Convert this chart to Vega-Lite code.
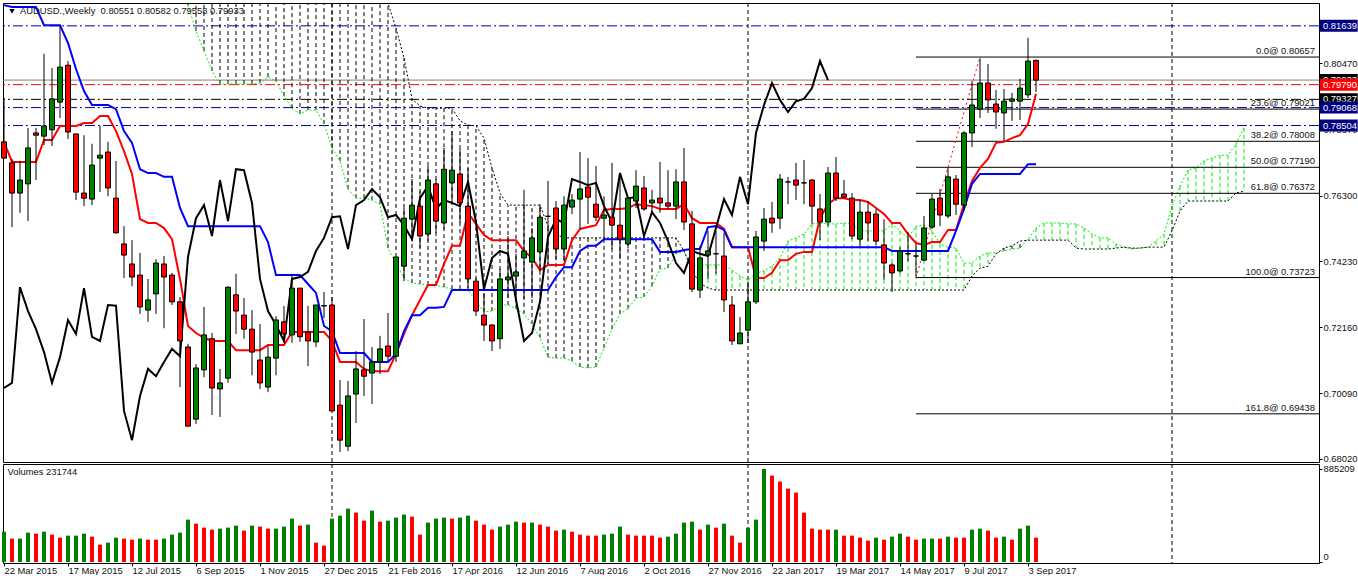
{"$schema":"https://vega.github.io/schema/vega-lite/v6.json","background":"white","padding":{"left":0,"top":2,"right":0,"bottom":0},"config":{"view":{"stroke":"black","strokeWidth":1},"concat":{"spacing":-2},"font":"Liberation Sans","axis":{"grid":false,"title":null,"domain":false,"tickColor":"black","tickSize":3,"labelColor":"#111","labelFontSize":9.4,"labelFont":"Liberation Sans","labelPadding":1}},
"datasets":{"w":[
{"d":"2015-03-22","o":0.7799,"h":0.7937,"l":0.7745,"c":0.7748,"v":288743,"vc":"up","t":0.7799,"k":0.8229,"x":0.7025},
{"d":"2015-03-29","o":0.7733,"h":0.7745,"l":0.7531,"c":0.7638,"v":222110,"vc":"dn","t":0.7736,"k":0.8223,"x":0.7041},
{"d":"2015-04-05","o":0.7638,"h":0.7739,"l":0.7576,"c":0.7679,"v":222110,"vc":"up","t":0.7736,"k":0.8223,"x":0.7342},
{"d":"2015-04-12","o":0.7667,"h":0.7843,"l":0.755,"c":0.778,"v":279224,"vc":"up","t":0.7736,"k":0.8223,"x":0.7267},
{"d":"2015-04-19","o":0.7827,"h":0.7843,"l":0.7679,"c":0.782,"v":269705,"vc":"dn","t":0.7736,"k":0.8223,"x":0.721},
{"d":"2015-04-26","o":0.7817,"h":0.8076,"l":0.7789,"c":0.7849,"v":288743,"vc":"up","t":0.7805,"k":0.8166,"x":0.7138},
{"d":"2015-05-03","o":0.7837,"h":0.8031,"l":0.7786,"c":0.7934,"v":260186,"vc":"dn","t":0.7805,"k":0.8166,"x":0.7041},
{"d":"2015-05-10","o":0.7924,"h":0.8166,"l":0.7874,"c":0.8034,"v":231629,"vc":"dn","t":0.7849,"k":0.8166,"x":0.7122},
{"d":"2015-05-17","o":0.804,"h":0.8053,"l":0.7808,"c":0.783,"v":250667,"vc":"up","t":0.7849,"k":0.811,"x":0.7239},
{"d":"2015-05-24","o":0.7824,"h":0.7824,"l":0.7616,"c":0.7641,"v":250667,"vc":"up","t":0.7849,"k":0.8028,"x":0.7195},
{"d":"2015-05-31","o":0.7638,"h":0.782,"l":0.7597,"c":0.7622,"v":269705,"vc":"up","t":0.7858,"k":0.7959,"x":0.7339},
{"d":"2015-06-07","o":0.7619,"h":0.7793,"l":0.76,"c":0.7726,"v":241148,"vc":"dn","t":0.7858,"k":0.7915,"x":0.7186},
{"d":"2015-06-14","o":0.7748,"h":0.7849,"l":0.7641,"c":0.7757,"v":164996,"vc":"dn","t":0.788,"k":0.7915,"x":0.7173},
{"d":"2015-06-21","o":0.7767,"h":0.7799,"l":0.7628,"c":0.7654,"v":184034,"vc":"up","t":0.788,"k":0.7915,"x":0.7286},
{"d":"2015-06-28","o":0.7622,"h":0.7739,"l":0.751,"c":0.7513,"v":231629,"vc":"up","t":0.7833,"k":0.7902,"x":0.7284},
{"d":"2015-07-05","o":0.7478,"h":0.7534,"l":0.7371,"c":0.7443,"v":222110,"vc":"dn","t":0.777,"k":0.7833,"x":0.6953},
{"d":"2015-07-12","o":0.7415,"h":0.749,"l":0.7345,"c":0.7374,"v":212591,"vc":"dn","t":0.7698,"k":0.7796,"x":0.6861},
{"d":"2015-07-19","o":0.738,"h":0.745,"l":0.7258,"c":0.728,"v":222110,"vc":"up","t":0.7556,"k":0.7713,"x":0.7},
{"d":"2015-07-26","o":0.727,"h":0.7368,"l":0.7233,"c":0.7302,"v":212591,"vc":"dn","t":0.7544,"k":0.7701,"x":0.7085},
{"d":"2015-08-02","o":0.7321,"h":0.743,"l":0.7258,"c":0.7418,"v":212591,"vc":"dn","t":0.7544,"k":0.7701,"x":0.7062},
{"d":"2015-08-09","o":0.7415,"h":0.744,"l":0.7213,"c":0.7374,"v":222110,"vc":"up","t":0.7528,"k":0.7689,"x":0.7107},
{"d":"2015-08-16","o":0.738,"h":0.7387,"l":0.7286,"c":0.7296,"v":260186,"vc":"up","t":0.7493,"k":0.7689,"x":0.7148},
{"d":"2015-08-23","o":0.7296,"h":0.7311,"l":0.7028,"c":0.7173,"v":279224,"vc":"up","t":0.7368,"k":0.7591,"x":0.7125},
{"d":"2015-08-30","o":0.7154,"h":0.7164,"l":0.6905,"c":0.6905,"v":402971,"vc":"up","t":0.722,"k":0.7534,"x":0.7437,"a":0.8229,"b":0.83},
{"d":"2015-09-06","o":0.6927,"h":0.71,"l":0.6912,"c":0.7088,"v":364895,"vc":"dn","t":0.7198,"k":0.7534,"x":0.7559,"a":0.8148,"b":0.83},
{"d":"2015-09-13","o":0.7082,"h":0.728,"l":0.7059,"c":0.7192,"v":326819,"vc":"dn","t":0.7183,"k":0.7534,"x":0.76,"a":0.8085,"b":0.83},
{"d":"2015-09-20","o":0.718,"h":0.7198,"l":0.694,"c":0.7025,"v":307781,"vc":"dn","t":0.7173,"k":0.7534,"x":0.7503,"a":0.8022,"b":0.83},
{"d":"2015-09-27","o":0.7022,"h":0.7085,"l":0.6934,"c":0.7041,"v":317300,"vc":"up","t":0.7173,"k":0.7534,"x":0.7679,"a":0.7981,"b":0.83},
{"d":"2015-10-04","o":0.7056,"h":0.7345,"l":0.7041,"c":0.7342,"v":326819,"vc":"up","t":0.7173,"k":0.7534,"x":0.755,"a":0.7981,"b":0.83},
{"d":"2015-10-11","o":0.7318,"h":0.7384,"l":0.7195,"c":0.7267,"v":345857,"vc":"up","t":0.7144,"k":0.7534,"x":0.7713,"a":0.7981,"b":0.83},
{"d":"2015-10-18","o":0.7254,"h":0.7308,"l":0.718,"c":0.721,"v":298262,"vc":"dn","t":0.7144,"k":0.7534,"x":0.771,"a":0.7981,"b":0.83},
{"d":"2015-10-25","o":0.721,"h":0.727,"l":0.7065,"c":0.7138,"v":345857,"vc":"up","t":0.7144,"k":0.7534,"x":0.7607,"a":0.7981,"b":0.83},
{"d":"2015-11-01","o":0.7113,"h":0.7226,"l":0.7022,"c":0.7041,"v":336338,"vc":"dn","t":0.7144,"k":0.7534,"x":0.7368,"a":0.7984,"b":0.83},
{"d":"2015-11-08","o":0.7028,"h":0.7157,"l":0.7012,"c":0.7122,"v":317300,"vc":"dn","t":0.716,"k":0.7484,"x":0.7267,"a":0.8003,"b":0.83},
{"d":"2015-11-15","o":0.7119,"h":0.7251,"l":0.7065,"c":0.7239,"v":317300,"vc":"up","t":0.716,"k":0.738,"x":0.7223,"a":0.799,"b":0.83},
{"d":"2015-11-22","o":0.7233,"h":0.7283,"l":0.7167,"c":0.7195,"v":336338,"vc":"up","t":0.716,"k":0.738,"x":0.7173,"a":0.7943,"b":0.83},
{"d":"2015-11-29","o":0.7192,"h":0.7384,"l":0.7167,"c":0.7339,"v":412490,"vc":"up","t":0.7201,"k":0.738,"x":0.7368,"a":0.7905,"b":0.83},
{"d":"2015-12-06","o":0.7339,"h":0.7339,"l":0.717,"c":0.7186,"v":345857,"vc":"dn","t":0.7201,"k":0.738,"x":0.7374,"a":0.7887,"b":0.83},
{"d":"2015-12-13","o":0.7201,"h":0.7283,"l":0.7094,"c":0.7173,"v":355376,"vc":"up","t":0.7201,"k":0.7352,"x":0.739,"a":0.7899,"b":0.83},
{"d":"2015-12-20","o":0.717,"h":0.7286,"l":0.7154,"c":0.7286,"v":184034,"vc":"dn","t":0.7201,"k":0.7324,"x":0.7456,"a":0.7899,"b":0.83},
{"d":"2015-12-27","o":0.7283,"h":0.7327,"l":0.7245,"c":0.7284,"v":155477,"vc":"dn","t":0.7201,"k":0.722,"x":0.7497,"a":0.7855,"b":0.83},
{"d":"2016-01-03","o":0.7286,"h":0.7311,"l":0.6953,"c":0.6953,"v":412490,"vc":"up","t":0.7173,"k":0.7204,"x":0.7562,"a":0.778,"b":0.83},
{"d":"2016-01-10","o":0.6971,"h":0.705,"l":0.6824,"c":0.6861,"v":441047,"vc":"up","t":0.7107,"k":0.7135,"x":0.7565,"a":0.7739,"b":0.83},
{"d":"2016-01-17","o":0.6842,"h":0.7047,"l":0.6827,"c":0.7,"v":507680,"vc":"up","t":0.7107,"k":0.7135,"x":0.7462,"a":0.7651,"b":0.83},
{"d":"2016-01-24","o":0.7006,"h":0.7141,"l":0.6915,"c":0.7085,"v":469604,"vc":"dn","t":0.7107,"k":0.7135,"x":0.76,"a":0.7622,"b":0.83},
{"d":"2016-01-31","o":0.7082,"h":0.7242,"l":0.7,"c":0.7062,"v":393452,"vc":"dn","t":0.7085,"k":0.7135,"x":0.7616,"a":0.7622,"b":0.83},
{"d":"2016-02-07","o":0.7072,"h":0.7154,"l":0.6975,"c":0.7107,"v":488642,"vc":"up","t":0.7078,"k":0.7107,"x":0.7651,"a":0.7616,"b":0.83},
{"d":"2016-02-14","o":0.7107,"h":0.7189,"l":0.7069,"c":0.7148,"v":383933,"vc":"dn","t":0.7078,"k":0.7107,"x":0.7625,"a":0.7603,"b":0.83},
{"d":"2016-02-21","o":0.7157,"h":0.7261,"l":0.711,"c":0.7125,"v":393452,"vc":"up","t":0.7078,"k":0.7107,"x":0.7562,"a":0.7465,"b":0.8235},
{"d":"2016-02-28","o":0.7125,"h":0.7437,"l":0.7107,"c":0.7437,"v":422009,"vc":"up","t":0.7132,"k":0.7132,"x":0.7569,"a":0.7415,"b":0.8157},
{"d":"2016-03-06","o":0.7408,"h":0.7591,"l":0.7361,"c":0.7559,"v":450566,"vc":"up","t":0.7195,"k":0.7204,"x":0.7537,"a":0.7371,"b":0.8063},
{"d":"2016-03-13","o":0.7556,"h":0.7682,"l":0.7497,"c":0.76,"v":431528,"vc":"dn","t":0.7254,"k":0.7254,"x":0.7493,"a":0.7355,"b":0.7934},
{"d":"2016-03-20","o":0.7597,"h":0.7644,"l":0.7465,"c":0.7503,"v":260186,"vc":"dn","t":0.7302,"k":0.7254,"x":0.7622,"a":0.7352,"b":0.7912},
{"d":"2016-03-27","o":0.7509,"h":0.7723,"l":0.7487,"c":0.7679,"v":374414,"vc":"up","t":0.7349,"k":0.7277,"x":0.766,"a":0.7349,"b":0.7905},
{"d":"2016-04-03","o":0.7667,"h":0.7682,"l":0.7513,"c":0.755,"v":412490,"vc":"up","t":0.7349,"k":0.7277,"x":0.7588,"a":0.7349,"b":0.7905},
{"d":"2016-04-10","o":0.7544,"h":0.778,"l":0.7525,"c":0.7713,"v":422009,"vc":"up","t":0.7415,"k":0.728,"x":0.7616,"a":0.7342,"b":0.7905},
{"d":"2016-04-17","o":0.767,"h":0.7833,"l":0.7603,"c":0.771,"v":412490,"vc":"dn","t":0.7472,"k":0.7333,"x":0.7607,"a":0.7336,"b":0.7905},
{"d":"2016-04-24","o":0.7698,"h":0.7777,"l":0.7544,"c":0.7607,"v":422009,"vc":"up","t":0.7472,"k":0.7333,"x":0.7597,"a":0.7336,"b":0.7865},
{"d":"2016-05-01","o":0.7597,"h":0.7717,"l":0.7339,"c":0.7368,"v":441047,"vc":"up","t":0.7576,"k":0.7333,"x":0.7673,"a":0.7333,"b":0.7852},
{"d":"2016-05-08","o":0.7361,"h":0.7371,"l":0.7251,"c":0.7267,"v":393452,"vc":"dn","t":0.7541,"k":0.7333,"x":0.7547,"a":0.7299,"b":0.7849},
{"d":"2016-05-15","o":0.7254,"h":0.7324,"l":0.7173,"c":0.7223,"v":355376,"vc":"dn","t":0.7506,"k":0.7333,"x":0.7336,"a":0.7264,"b":0.7811},
{"d":"2016-05-22","o":0.7223,"h":0.7226,"l":0.7141,"c":0.7173,"v":307781,"vc":"dn","t":0.749,"k":0.7333,"x":0.7434,"a":0.7267,"b":0.7717},
{"d":"2016-05-29","o":0.718,"h":0.7399,"l":0.7148,"c":0.7368,"v":336338,"vc":"up","t":0.749,"k":0.7333,"x":0.7456,"a":0.7286,"b":0.7638},
{"d":"2016-06-05","o":0.7365,"h":0.7503,"l":0.7308,"c":0.7374,"v":355376,"vc":"up","t":0.749,"k":0.7333,"x":0.7447,"a":0.7286,"b":0.76},
{"d":"2016-06-12","o":0.7377,"h":0.7447,"l":0.7299,"c":0.739,"v":383933,"vc":"up","t":0.749,"k":0.7333,"x":0.7302,"a":0.7274,"b":0.76},
{"d":"2016-06-19","o":0.7434,"h":0.7648,"l":0.7305,"c":0.7456,"v":374414,"vc":"dn","t":0.7456,"k":0.7333,"x":0.7173,"a":0.7258,"b":0.76},
{"d":"2016-06-26","o":0.7421,"h":0.7528,"l":0.7308,"c":0.7497,"v":374414,"vc":"up","t":0.7434,"k":0.7333,"x":0.7198,"a":0.7226,"b":0.76},
{"d":"2016-07-03","o":0.7453,"h":0.7603,"l":0.7393,"c":0.7562,"v":355376,"vc":"dn","t":0.7396,"k":0.7333,"x":0.7296,"a":0.7183,"b":0.76},
{"d":"2016-07-10","o":0.7565,"h":0.7676,"l":0.7415,"c":0.7565,"v":336338,"vc":"dn","t":0.7412,"k":0.7333,"x":0.75,"a":0.7122,"b":0.7534},
{"d":"2016-07-17","o":0.7591,"h":0.7613,"l":0.743,"c":0.7462,"v":298262,"vc":"dn","t":0.7412,"k":0.7374,"x":0.7556,"a":0.7119,"b":0.7509},
{"d":"2016-07-24","o":0.7462,"h":0.7628,"l":0.7424,"c":0.76,"v":307781,"vc":"up","t":0.7412,"k":0.7405,"x":0.7544,"a":0.7119,"b":0.7497},
{"d":"2016-07-31","o":0.7594,"h":0.7635,"l":0.7572,"c":0.7616,"v":288743,"vc":"dn","t":0.749,"k":0.7405,"x":0.7682,"a":0.711,"b":0.7497},
{"d":"2016-08-07","o":0.7619,"h":0.7767,"l":0.7525,"c":0.7651,"v":260186,"vc":"dn","t":0.7525,"k":0.7456,"x":0.7673,"a":0.7091,"b":0.7497},
{"d":"2016-08-14","o":0.7657,"h":0.7748,"l":0.7541,"c":0.7625,"v":250667,"vc":"dn","t":0.7531,"k":0.7472,"x":0.7663,"a":0.7088,"b":0.7497},
{"d":"2016-08-21","o":0.7603,"h":0.7723,"l":0.755,"c":0.7562,"v":250667,"vc":"dn","t":0.7537,"k":0.7472,"x":0.767,"a":0.7091,"b":0.7497},
{"d":"2016-08-28","o":0.7559,"h":0.7628,"l":0.7493,"c":0.7569,"v":260186,"vc":"up","t":0.7585,"k":0.7493,"x":0.7597,"a":0.7151,"b":0.7497},
{"d":"2016-09-04","o":0.7562,"h":0.7733,"l":0.7462,"c":0.7537,"v":269705,"vc":"up","t":0.7588,"k":0.7493,"x":0.7547,"a":0.721,"b":0.7497},
{"d":"2016-09-11","o":0.7537,"h":0.7692,"l":0.743,"c":0.7493,"v":336338,"vc":"up","t":0.7588,"k":0.7493,"x":0.7701,"a":0.7258,"b":0.7497},
{"d":"2016-09-18","o":0.7478,"h":0.7622,"l":0.7465,"c":0.7622,"v":260186,"vc":"dn","t":0.7591,"k":0.7493,"x":0.7622,"a":0.7274,"b":0.7497},
{"d":"2016-09-25","o":0.7613,"h":0.771,"l":0.7591,"c":0.766,"v":250667,"vc":"dn","t":0.7603,"k":0.7493,"x":0.7625,"a":0.7308,"b":0.7497},
{"d":"2016-10-02","o":0.7654,"h":0.7692,"l":0.7582,"c":0.7588,"v":250667,"vc":"dn","t":0.76,"k":0.7493,"x":0.7503,"a":0.7311,"b":0.7497},
{"d":"2016-10-09","o":0.7607,"h":0.7648,"l":0.7576,"c":0.7616,"v":250667,"vc":"dn","t":0.7597,"k":0.7493,"x":0.7578,"a":0.7345,"b":0.7497},
{"d":"2016-10-16","o":0.7622,"h":0.7736,"l":0.7576,"c":0.7607,"v":231629,"vc":"dn","t":0.7588,"k":0.7453,"x":0.7544,"a":0.7399,"b":0.7497},
{"d":"2016-10-23","o":0.7607,"h":0.771,"l":0.7588,"c":0.7597,"v":241148,"vc":"up","t":0.7588,"k":0.7453,"x":0.7487,"a":0.7402,"b":0.7497},
{"d":"2016-10-30","o":0.7597,"h":0.7713,"l":0.7556,"c":0.7673,"v":269705,"vc":"up","t":0.7588,"k":0.7453,"x":0.7418,"a":0.7447,"b":0.7497},
{"d":"2016-11-06","o":0.7673,"h":0.778,"l":0.7522,"c":0.7547,"v":374414,"vc":"up","t":0.7603,"k":0.7459,"x":0.7387,"a":0.7456,"b":0.7456},
{"d":"2016-11-13","o":0.7541,"h":0.7582,"l":0.7327,"c":0.7336,"v":383933,"vc":"up","t":0.7559,"k":0.7462,"x":0.7456,"a":0.7408,"b":0.7393},
{"d":"2016-11-20","o":0.7333,"h":0.7472,"l":0.7308,"c":0.7434,"v":307781,"vc":"dn","t":0.7544,"k":0.7462,"x":0.7447,"a":0.7412,"b":0.7355},
{"d":"2016-11-27","o":0.7443,"h":0.7519,"l":0.7368,"c":0.7456,"v":355376,"vc":"up","t":0.7544,"k":0.7531,"x":0.744,"a":0.7412,"b":0.7339},
{"d":"2016-12-04","o":0.7447,"h":0.7519,"l":0.7384,"c":0.7447,"v":326819,"vc":"dn","t":0.7544,"k":0.7534,"x":0.7528,"a":0.7412,"b":0.7333},
{"d":"2016-12-11","o":0.744,"h":0.7513,"l":0.7264,"c":0.7302,"v":364895,"vc":"up","t":0.7525,"k":0.7522,"x":0.7619,"a":0.7412,"b":0.7333},
{"d":"2016-12-18","o":0.7286,"h":0.7314,"l":0.716,"c":0.7173,"v":250667,"vc":"dn","t":0.7468,"k":0.7468,"x":0.7569,"a":0.7396,"b":0.7333},
{"d":"2016-12-25","o":0.7164,"h":0.7248,"l":0.7164,"c":0.7198,"v":184034,"vc":"dn","t":0.7468,"k":0.7468,"x":0.7689,"a":0.7377,"b":0.7333},
{"d":"2017-01-01","o":0.7207,"h":0.7358,"l":0.7167,"c":0.7296,"v":326819,"vc":"up","t":0.7468,"k":0.7468,"x":0.7603,"a":0.7365,"b":0.7333},
{"d":"2017-01-08","o":0.7296,"h":0.7519,"l":0.7289,"c":0.75,"v":402971,"vc":"up","t":0.7371,"k":0.7468,"x":0.7827,"a":0.7387,"b":0.7333},
{"d":"2017-01-15","o":0.7487,"h":0.7591,"l":0.7456,"c":0.7556,"v":885209,"vc":"up","t":0.7371,"k":0.7468,"x":0.7915,"a":0.7393,"b":0.7333},
{"d":"2017-01-22","o":0.7559,"h":0.761,"l":0.7513,"c":0.7544,"v":821807,"vc":"dn","t":0.7387,"k":0.7468,"x":0.7984,"a":0.7408,"b":0.7333},
{"d":"2017-01-29","o":0.7559,"h":0.7698,"l":0.7525,"c":0.7682,"v":764693,"vc":"dn","t":0.7427,"k":0.7468,"x":0.7931,"a":0.7434,"b":0.7333},
{"d":"2017-02-05","o":0.7673,"h":0.7689,"l":0.7603,"c":0.7673,"v":698060,"vc":"dn","t":0.7427,"k":0.7468,"x":0.7893,"a":0.7487,"b":0.7333},
{"d":"2017-02-12","o":0.7679,"h":0.7733,"l":0.7616,"c":0.7663,"v":659984,"vc":"dn","t":0.7447,"k":0.7468,"x":0.7927,"a":0.7497,"b":0.7333},
{"d":"2017-02-19","o":0.767,"h":0.7742,"l":0.7603,"c":0.767,"v":469604,"vc":"dn","t":0.7453,"k":0.7468,"x":0.7934,"a":0.7509,"b":0.7333},
{"d":"2017-02-26","o":0.7679,"h":0.7682,"l":0.7541,"c":0.7597,"v":317300,"vc":"dn","t":0.7453,"k":0.7468,"x":0.7968,"a":0.7541,"b":0.7333},
{"d":"2017-03-05","o":0.7588,"h":0.7635,"l":0.749,"c":0.7547,"v":307781,"vc":"dn","t":0.7559,"k":0.7468,"x":0.8053,"a":0.7544,"b":0.7333},
{"d":"2017-03-12","o":0.7547,"h":0.772,"l":0.7534,"c":0.7701,"v":307781,"vc":"dn","t":0.7603,"k":0.7468,"x":0.7993,"a":0.7541,"b":0.7333},
{"d":"2017-03-19","o":0.7701,"h":0.7751,"l":0.7613,"c":0.7622,"v":307781,"vc":"up","t":0.7622,"k":0.7468,"a":0.7541,"b":0.7333},
{"d":"2017-03-26","o":0.7635,"h":0.7679,"l":0.7622,"c":0.7625,"v":250667,"vc":"dn","t":0.7622,"k":0.7468,"a":0.7544,"b":0.7333},
{"d":"2017-04-02","o":0.7622,"h":0.7638,"l":0.7493,"c":0.7503,"v":250667,"vc":"dn","t":0.7616,"k":0.7468,"a":0.7541,"b":0.7333},
{"d":"2017-04-09","o":0.7493,"h":0.7616,"l":0.7472,"c":0.7578,"v":231629,"vc":"dn","t":0.7616,"k":0.7468,"a":0.7519,"b":0.7333},
{"d":"2017-04-16","o":0.7578,"h":0.7613,"l":0.7487,"c":0.7544,"v":203072,"vc":"dn","t":0.761,"k":0.7468,"a":0.7519,"b":0.7333},
{"d":"2017-04-23","o":0.7572,"h":0.7588,"l":0.7475,"c":0.7487,"v":231629,"vc":"up","t":0.7591,"k":0.7468,"a":0.7519,"b":0.7333},
{"d":"2017-04-30","o":0.7475,"h":0.7556,"l":0.7365,"c":0.7418,"v":212591,"vc":"dn","t":0.7572,"k":0.7468,"a":0.7519,"b":0.7333},
{"d":"2017-05-07","o":0.7412,"h":0.7418,"l":0.7327,"c":0.7387,"v":241148,"vc":"up","t":0.7544,"k":0.7456,"a":0.7541,"b":0.7333},
{"d":"2017-05-14","o":0.7393,"h":0.7468,"l":0.7387,"c":0.7456,"v":269705,"vc":"up","t":0.7544,"k":0.7456,"a":0.7519,"b":0.7333},
{"d":"2017-05-21","o":0.7447,"h":0.7516,"l":0.7424,"c":0.7447,"v":241148,"vc":"dn","t":0.7509,"k":0.7456,"a":0.7497,"b":0.7333},
{"d":"2017-05-28","o":0.744,"h":0.7478,"l":0.7377,"c":0.744,"v":212591,"vc":"dn","t":0.7481,"k":0.7456,"a":0.7534,"b":0.7333},
{"d":"2017-06-04","o":0.7427,"h":0.7566,"l":0.7424,"c":0.7528,"v":222110,"vc":"up","t":0.7475,"k":0.7456,"a":0.7537,"b":0.7333},
{"d":"2017-06-11","o":0.7531,"h":0.7635,"l":0.7525,"c":0.7619,"v":222110,"vc":"up","t":0.7484,"k":0.7456,"a":0.7519,"b":0.7333},
{"d":"2017-06-18","o":0.7622,"h":0.7651,"l":0.7534,"c":0.7569,"v":222110,"vc":"dn","t":0.7484,"k":0.7456,"a":0.7478,"b":0.7333},
{"d":"2017-06-25","o":0.7566,"h":0.7717,"l":0.7559,"c":0.7689,"v":241148,"vc":"up","t":0.7522,"k":0.7456,"a":0.7468,"b":0.7333},
{"d":"2017-07-02","o":0.7682,"h":0.7695,"l":0.7569,"c":0.7603,"v":231629,"vc":"dn","t":0.7522,"k":0.7519,"a":0.7465,"b":0.7333},
{"d":"2017-07-09","o":0.76,"h":0.7833,"l":0.7582,"c":0.7827,"v":231629,"vc":"dn","t":0.7603,"k":0.7588,"a":0.7418,"b":0.7333},
{"d":"2017-07-16","o":0.7827,"h":0.799,"l":0.7783,"c":0.7915,"v":307781,"vc":"up","t":0.7676,"k":0.7667,"a":0.7418,"b":0.7377},
{"d":"2017-07-23","o":0.7902,"h":0.8062,"l":0.7874,"c":0.7984,"v":317300,"vc":"up","t":0.7717,"k":0.7698,"a":0.744,"b":0.7402},
{"d":"2017-07-30","o":0.7984,"h":0.8044,"l":0.789,"c":0.7931,"v":298262,"vc":"dn","t":0.7745,"k":0.7698,"a":0.745,"b":0.7408},
{"d":"2017-08-06","o":0.7918,"h":0.7962,"l":0.784,"c":0.7893,"v":231629,"vc":"dn","t":0.7796,"k":0.7698,"a":0.745,"b":0.7447},
{"d":"2017-08-13","o":0.789,"h":0.7965,"l":0.7802,"c":0.7927,"v":241148,"vc":"up","t":0.7799,"k":0.7698,"a":0.7456,"b":0.7465},
{"d":"2017-08-20","o":0.7927,"h":0.7953,"l":0.7865,"c":0.7934,"v":212591,"vc":"dn","t":0.7811,"k":0.7698,"a":0.7462,"b":0.7472},
{"d":"2017-08-27","o":0.7927,"h":0.7997,"l":0.7868,"c":0.7968,"v":317300,"vc":"up","t":0.782,"k":0.7698,"a":0.7465,"b":0.7487},
{"d":"2017-09-03","o":0.7947,"h":0.8126,"l":0.7937,"c":0.8053,"v":345857,"vc":"up","t":0.7855,"k":0.7729,"a":0.7493,"b":0.749},
{"d":"2017-09-10","o":0.80551,"h":0.80582,"l":0.79558,"c":0.79933,"v":231744,"vc":"dn","t":0.795,"k":0.7729,"a":0.7528,"b":0.749},
{"d":"2017-09-17","a":0.7544,"b":0.749},
{"d":"2017-09-24","a":0.7544,"b":0.749},
{"d":"2017-10-01","a":0.7544,"b":0.749},
{"d":"2017-10-08","a":0.7541,"b":0.749},
{"d":"2017-10-15","a":0.7541,"b":0.7465},
{"d":"2017-10-22","a":0.7528,"b":0.7462},
{"d":"2017-10-29","a":0.7509,"b":0.7462},
{"d":"2017-11-05","a":0.7497,"b":0.7462},
{"d":"2017-11-12","a":0.7497,"b":0.7462},
{"d":"2017-11-19","a":0.7478,"b":0.7465},
{"d":"2017-11-26","a":0.7468,"b":0.7468},
{"d":"2017-12-03","a":0.7462,"b":0.7465},
{"d":"2017-12-10","a":0.7465,"b":0.7465},
{"d":"2017-12-17","a":0.7468,"b":0.7468},
{"d":"2017-12-24","a":0.7487,"b":0.7468},
{"d":"2017-12-31","a":0.7509,"b":0.7468},
{"d":"2018-01-07","a":0.7597,"b":0.7519},
{"d":"2018-01-14","a":0.766,"b":0.7582},
{"d":"2018-01-21","a":0.771,"b":0.7613},
{"d":"2018-01-28","a":0.7717,"b":0.7613},
{"d":"2018-02-04","a":0.7739,"b":0.7613},
{"d":"2018-02-11","a":0.7748,"b":0.7613},
{"d":"2018-02-18","a":0.7757,"b":0.7613},
{"d":"2018-02-25","a":0.7757,"b":0.7613},
{"d":"2018-03-04","a":0.7793,"b":0.7638},
{"d":"2018-03-11","a":0.7843,"b":0.7644}
],
"seps":[{"d":"2016-01-03"},{"d":"2017-01-01"},{"d":"2018-01-07"}],
"hl":[{"name":"alertHi","p":0.81639,"label":"0.81639","from":"2018-05-16T12:00:00Z","to":"2018-06-18T12:00:00Z","at":"2018-05-19T03:00:00Z"},{"name":"bid","p":0.79933,"label":"0.79933","from":"2018-05-16T12:00:00Z","to":"2018-06-18T12:00:00Z","at":"2018-05-19T03:00:00Z"},{"name":"ask","p":0.7979,"label":"0.79790","from":"2018-05-16T12:00:00Z","to":"2018-06-18T12:00:00Z","at":"2018-05-19T03:00:00Z"},{"name":"pivot","p":0.79327,"label":"0.79327","from":"2018-05-16T12:00:00Z","to":"2018-06-18T12:00:00Z","at":"2018-05-19T03:00:00Z"},{"name":"alertA","p":0.79068,"label":"0.79068","from":"2018-05-16T12:00:00Z","to":"2018-06-18T12:00:00Z","at":"2018-05-19T03:00:00Z"},{"name":"alertB","p":0.78504,"label":"0.78504","from":"2018-05-16T12:00:00Z","to":"2018-06-18T12:00:00Z","at":"2018-05-19T03:00:00Z"}],
"fib":[{"p":0.80657,"label":"0.0@ 0.80657","from":"2017-05-28","to":"2018-05-15T15:00:00Z"},{"p":0.79021,"label":"23.6@ 0.79021","from":"2017-05-28","to":"2018-05-15T15:00:00Z"},{"p":0.78008,"label":"38.2@ 0.78008","from":"2017-05-28","to":"2018-05-15T15:00:00Z"},{"p":0.7719,"label":"50.0@ 0.77190","from":"2017-05-28","to":"2018-05-15T15:00:00Z"},{"p":0.76372,"label":"61.8@ 0.76372","from":"2017-05-28","to":"2018-05-15T15:00:00Z"},{"p":0.73723,"label":"100.0@ 0.73723","from":"2017-05-28","to":"2018-05-15T15:00:00Z"},{"p":0.69438,"label":"161.8@ 0.69438","from":"2017-05-28","to":"2018-05-15T15:00:00Z"}],
"diag":[{"d":"2017-05-28","p":0.73723},{"d":"2017-07-23","p":0.80657}]
},
"vconcat":[
{"width":1316,"height":459,
"encoding":{"x":{"field":"d","type":"temporal","axis":null,"scale":{"type":"utc","padding":0,"domain":[1426906800000,1526396400000]}}},
"layer":[
{"data":{"name":"seps"},"mark":{"type":"rule","color":"black","strokeWidth":1,"strokeDash":[4,3]},"encoding":{}},
{"data":{"name":"hl"},"transform":[{"filter":"datum.name=='bid'"}],"mark":{"type":"rule","color":"#808080","strokeWidth":1},"encoding":{"x":null,"y":{"field":"p","type":"quantitative","scale":{"padding":0,"domain":[0.67923,0.82357],"zero":false,"nice":false},"axis":{"orient":"right","format":".5f","values":[0.8149,0.8047,0.7942,0.7837,0.7735,0.763,0.7528,0.7423,0.7321,0.7216,0.7111,0.7009,0.6904,0.6802]}}}},
{"data":{"name":"hl"},"transform":[{"filter":"datum.name!='bid'"}],"mark":{"type":"rule","strokeWidth":1,"strokeDash":[10,3,2,3]},"encoding":{"x":null,"y":{"field":"p","type":"quantitative"},"color":{"condition":[{"test":"datum.name=='ask'","value":"#ff0000"},{"test":"datum.name=='pivot'","value":"#000000"}],"value":"#0000a0"}}},
{"data":{"name":"w"},"transform":[{"filter":"isValid(datum.a)"}],"mark":{"type":"rule","strokeWidth":1,"strokeDash":[4,3],"clip":true},"encoding":{"y":{"field":"a","type":"quantitative"},"y2":{"field":"b"},"color":{"condition":{"test":"datum.a>=datum.b","value":"#00f000"},"value":"#000000"}}},
{"data":{"name":"w"},"mark":{"type":"line","color":"#00f000","strokeWidth":1,"strokeDash":[2,2],"clip":true},"encoding":{"y":{"field":"a","type":"quantitative"}}},
{"data":{"name":"w"},"mark":{"type":"line","color":"#000000","strokeWidth":1,"strokeDash":[2,2],"clip":true},"encoding":{"y":{"field":"b","type":"quantitative"}}},
{"data":{"name":"fib"},"mark":{"type":"rule","color":"black","strokeWidth":1},"encoding":{"x":{"field":"from","type":"temporal","scale":{"type":"utc","padding":0,"domain":[1426906800000,1526396400000]}},"x2":{"field":"to"},"y":{"field":"p","type":"quantitative"}}},
{"data":{"name":"diag"},"mark":{"type":"line","color":"#ff0000","strokeWidth":1,"strokeDash":[2,3]},"encoding":{"y":{"field":"p","type":"quantitative"}}},
{"data":{"name":"w"},"mark":{"type":"line","color":"#ff0000","strokeWidth":2,"clip":true},"encoding":{"y":{"field":"t","type":"quantitative"}}},
{"data":{"name":"w"},"mark":{"type":"line","color":"#0000ff","strokeWidth":2,"clip":true},"encoding":{"y":{"field":"k","type":"quantitative"}}},
{"data":{"name":"w"},"mark":{"type":"line","color":"#000000","strokeWidth":2,"clip":true},"encoding":{"y":{"field":"x","type":"quantitative"}}},
{"data":{"name":"w"},"transform":[{"filter":"isValid(datum.o)"}],"mark":{"type":"rule","color":"black","strokeWidth":1},"encoding":{"y":{"field":"h","type":"quantitative"},"y2":{"field":"l"}}},
{"data":{"name":"w"},"transform":[{"filter":"isValid(datum.o)"}],"mark":{"type":"bar","size":5,"stroke":"black","strokeWidth":1},"encoding":{"y":{"field":"o","type":"quantitative"},"y2":{"field":"c"},"fill":{"condition":{"test":"datum.c>=datum.o","value":"#008000"},"value":"#ff0000"}}},
{"data":{"name":"fib"},"mark":{"type":"text","align":"right","baseline":"middle","dx":-4,"dy":-6,"font":"Liberation Sans","fontSize":9.4,"color":"#111"},"encoding":{"x":{"field":"to","type":"temporal","scale":{"type":"utc","padding":0,"domain":[1426906800000,1526396400000]}},"y":{"field":"p","type":"quantitative"},"text":{"field":"label"}}},
{"data":{"name":"hl"},"transform":[{"filter":"datum.name=='bid'||datum.name=='pivot'"}],"mark":{"type":"bar","size":12},"encoding":{"x":{"field":"from","type":"temporal","scale":{"type":"utc","padding":0,"domain":[1426906800000,1526396400000]}},"x2":{"field":"to"},"y":{"field":"p","type":"quantitative"},"fill":{"value":"#000000"}}},
{"data":{"name":"hl"},"transform":[{"filter":"datum.name=='bid'||datum.name=='pivot'"}],"mark":{"type":"text","align":"left","baseline":"middle","font":"Liberation Sans","fontSize":9.4,"color":"white"},"encoding":{"x":{"field":"at","type":"temporal","scale":{"type":"utc","padding":0,"domain":[1426906800000,1526396400000]}},"y":{"field":"p","type":"quantitative"},"text":{"field":"label"}}},
{"data":{"name":"hl"},"transform":[{"filter":"datum.name!='bid'&&datum.name!='pivot'"}],"mark":{"type":"bar","size":12},"encoding":{"x":{"field":"from","type":"temporal","scale":{"type":"utc","padding":0,"domain":[1426906800000,1526396400000]}},"x2":{"field":"to"},"y":{"field":"p","type":"quantitative"},"fill":{"condition":{"test":"datum.name=='ask'","value":"#ff0000"},"value":"#000080"}}},
{"data":{"name":"hl"},"transform":[{"filter":"datum.name!='bid'&&datum.name!='pivot'"}],"mark":{"type":"text","align":"left","baseline":"middle","font":"Liberation Sans","fontSize":9.4,"color":"white"},"encoding":{"x":{"field":"at","type":"temporal","scale":{"type":"utc","padding":0,"domain":[1426906800000,1526396400000]}},"y":{"field":"p","type":"quantitative"},"text":{"field":"label"}}},
{"data":{"values":[{"d":"2015-04-05","p":0.8209,"label":"AUDUSD.,Weekly\u00a0\u00a00.80551 0.80582 0.79558 0.79933"}]},"mark":{"type":"text","align":"left","baseline":"middle","font":"Liberation Sans","fontSize":9.4,"color":"#111"},"encoding":{"y":{"field":"p","type":"quantitative"},"text":{"field":"label"}}},
{"data":{"values":[{"d":"2015-03-29","p":0.8209}]},"mark":{"type":"point","shape":"triangle-down","filled":true,"size":30,"color":"black","opacity":1},"encoding":{"y":{"field":"p","type":"quantitative"}}}
]},
{"width":1316,"height":99,
"encoding":{"x":{"field":"d","type":"temporal","scale":{"type":"utc","padding":0,"domain":[1426906800000,1526396400000]},"axis":{"values":[1426982400000,1431820800000,1436659200000,1441497600000,1446336000000,1451174400000,1456012800000,1460851200000,1465689600000,1470528000000,1475366400000,1480204800000,1485043200000,1489881600000,1494720000000,1499558400000,1504396800000],"format":"%-d %b %Y","labelAlign":"left","labelPadding":0,"labelOverlap":false,"labelBound":false,"labelFlush":false}}},
"layer":[
{"data":{"name":"seps"},"mark":{"type":"rule","color":"black","strokeWidth":1,"strokeDash":[4,3]},"encoding":{}},
{"data":{"name":"w"},"transform":[{"filter":"isValid(datum.v)"}],"mark":{"type":"bar","size":4},"encoding":{"y":{"field":"v","type":"quantitative","scale":{"padding":0,"domain":[-9518,932000],"nice":false,"zero":false},"axis":{"orient":"right","values":[0,885209],"format":"d","labelOffset":0,"labelBaseline":{"condition":{"test":"datum.value==0","value":"bottom"},"value":"middle"}}},"y2":{"datum":0},"color":{"condition":{"test":"datum.vc=='up'","value":"#008000"},"value":"#ff0000"}}},
{"data":{"values":[{"d":"2015-03-25","v":856620,"label":"Volumes 231744"}]},"mark":{"type":"text","align":"left","baseline":"middle","font":"Liberation Sans","fontSize":9.4,"color":"#111"},"encoding":{"y":{"field":"v","type":"quantitative"},"text":{"field":"label"}}}
]}
]}
